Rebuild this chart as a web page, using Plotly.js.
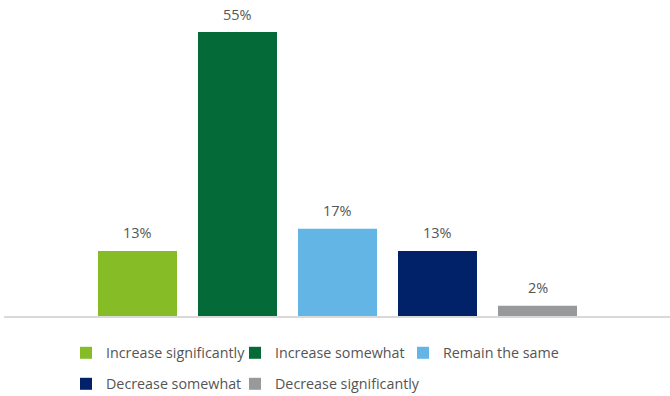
<!DOCTYPE html>
<html>
<head>
<meta charset="utf-8">
<script src="https://cdn.plot.ly/plotly-3.0.1.min.js"></script>
<style>
  html, body { margin: 0; padding: 0; background: #ffffff; }
  #chart { width: 670px; height: 396px; }
</style>
</head>
<body>
<div id="chart"></div>
<script>
// Data
const categories = ["Increase significantly", "Increase somewhat", "Remain the same", "Decrease somewhat", "Decrease significantly"];
const values = [12.6, 55, 16.9, 12.6, 2.0];
const labels = ["13%", "55%", "17%", "13%", "2%"];
const colors = ["#86bc25", "#046a38", "#62b5e5", "#012169", "#97999b"];
const legendIds = ["legend", "legend2", "legend3", "legend4", "legend5"];

const font = "Open Sans, Noto Sans, sans-serif";
const textColor = "#555555";

const traces = categories.map((c, i) => ({
  type: "bar",
  name: c,
  x: [c],
  y: [values[i]],
  width: 0.79,
  marker: { color: colors[i], line: { width: 0 } },
  legend: legendIds[i],
  hoverinfo: "skip"
}));

const annotations = categories.map((c, i) => ({
  x: c,
  y: values[i],
  xref: "x",
  yref: "y",
  text: labels[i],
  showarrow: false,
  yanchor: "middle",
  yshift: 18,
  font: { family: font, size: 14.5, color: textColor }
}));

function legendAt(px, py) {
  return {
    orientation: "h",
    xref: "container",
    yref: "container",
    xanchor: "left",
    yanchor: "top",
    x: px / 670,
    y: 1 - py / 396,
    font: { family: font, size: 14.3, color: textColor },
    bgcolor: "rgba(0,0,0,0)",
    borderwidth: 0
  };
}

const layout = {
  width: 670,
  height: 396,
  margin: { l: 4, r: 0, t: 10, b: 80, pad: 0 },
  paper_bgcolor: "#ffffff",
  plot_bgcolor: "#ffffff",
  barmode: "overlay",
  showlegend: true,
  xaxis: {
    type: "category",
    categoryorder: "array",
    categoryarray: categories,
    range: [-1.335, 5.325],
    showticklabels: false,
    showgrid: false,
    zeroline: false,
    ticks: "",
    showline: true,
    linecolor: "#d9d9d9",
    linewidth: 2,
    fixedrange: true
  },
  yaxis: {
    range: [0, 59.26],
    showticklabels: false,
    showgrid: false,
    zeroline: false,
    ticks: "",
    showline: false,
    fixedrange: true
  },
  legend: legendAt(66, 337),
  legend2: legendAt(235, 337),
  legend3: legendAt(403, 337),
  legend4: legendAt(66, 368),
  legend5: legendAt(235, 368),
  annotations: annotations,
  font: { family: font, color: textColor }
};

Plotly.newPlot("chart", traces, layout, { displayModeBar: false, staticPlot: true });
</script>
</body>
</html>
